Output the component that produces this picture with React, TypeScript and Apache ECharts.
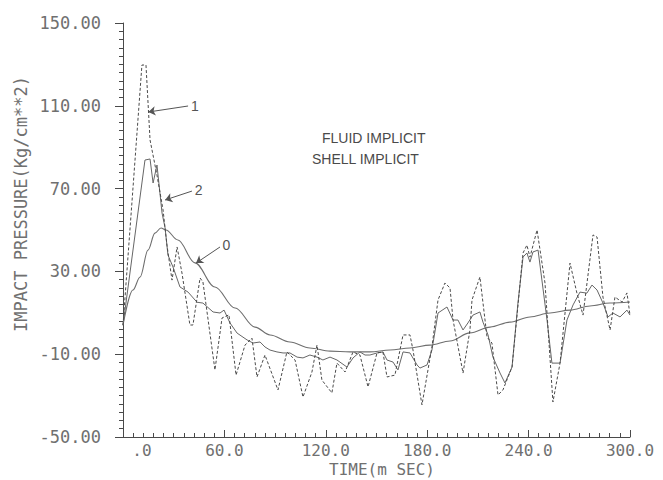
import React, { useEffect, useRef } from "react";
import * as echarts from "echarts";

// Tick labels
const xMajorTicks = [0, 60, 120, 180, 240, 300];
const yMajorTicks = [-50, -10, 30, 70, 110, 150];

// Curve 0 (smooth solid)
const curve0Time = [0, 5.9, 10.1, 14.8, 18.9, 22.5, 25.4, 32.5, 42.6, 54.4, 66.3, 78.1, 87.0, 98.8, 110.6, 122.5, 134.3, 146.1, 158.0, 169.8, 181.6, 193.5, 205.3, 217.2, 229.0, 240.8, 252.7, 264.5, 276.3, 288.2, 300];
const curve0Value = [4, 21.0, 27.3, 40.3, 48.5, 51.0, 50.0, 45.2, 34.1, 22.5, 12.3, 3.1, -0.7, -4.1, -7.0, -8.5, -8.9, -8.9, -8.0, -7.0, -5.6, -3.6, 0.3, 3.1, 5.5, 8.0, 9.9, 11.3, 13.3, 14.7, 15.2];

// Curve 1 (dashed, large oscillation)
const curve1Time = [0, 11.2, 13.6, 16.0, 20.1, 23.7, 26.0, 29.0, 32.0, 34.9, 39.6, 41.4, 45.6, 47.3, 54.4, 58.6, 62.7, 66.9, 72.2, 76.3, 79.3, 84.0, 91.7, 97.0, 101.8, 106.5, 111.8, 114.8, 117.7, 123.6, 126.6, 131.4, 136.1, 140.2, 145.0, 150.3, 153.8, 156.2, 160.9, 165.7, 169.8, 171.6, 176.9, 182.8, 186.4, 190.5, 193.5, 195.3, 201.2, 205.3, 206.5, 211.2, 215.4, 218.3, 221.9, 224.8, 230.2, 236.7, 239.0, 240.8, 245.0, 249.7, 254.4, 258.6, 264.5, 268.6, 272.2, 278.1, 280.5, 284.0, 288.2, 291.1, 295.3, 298.2, 300];
const curve1Value = [4, 129.7, 129.7, 93.5, 76.5, 59.7, 42.7, 25.8, 41.8, 29.2, 4.1, 4.1, 26.8, 24.9, -17.6, 7.5, 9.0, -20.1, -5.6, -2.2, -21.0, -10.4, -27.3, -8.9, -12.8, -30.7, -18.6, -5.6, -22.5, -28.7, -14.3, -18.6, -8.9, -10.4, -25.8, -9.4, -8.9, -21.0, -20.1, -0.7, -0.7, -8.0, -34.5, -6.5, 16.2, 24.4, 22.0, 6.5, -19.1, 1.7, 16.2, 27.3, -1.7, -4.6, -29.7, -27.3, -16.2, 38.9, 42.7, 36.9, 50.0, 24.4, -33.1, -14.3, 34.0, 19.5, 8.9, 47.6, 46.6, 17.6, 1.7, 17.6, 15.2, 19.6, 8.9];

// Curve 2 (thin, medium oscillation)
const curve2Time = [0, 13.0, 16.0, 17.8, 20.1, 23.1, 24.9, 26.6, 29.6, 33.7, 38.5, 43.8, 47.3, 53.3, 57.4, 59.8, 63.3, 67.5, 73.4, 76.9, 81.1, 84.0, 87.0, 91.1, 94.7, 98.8, 103.0, 106.5, 110.6, 114.8, 118.3, 122.5, 126.6, 132.5, 136.1, 140.2, 143.2, 146.1, 150.3, 153.8, 156.2, 159.8, 162.7, 165.7, 169.8, 174.0, 175.7, 179.9, 182.8, 186.4, 191.7, 195.3, 198.2, 201.2, 204.1, 207.1, 211.2, 213.0, 216.0, 218.9, 223.1, 226.0, 230.2, 233.7, 236.7, 239.0, 240.8, 242.6, 245.6, 250.9, 253.8, 258.6, 262.7, 266.3, 270.4, 274.5, 277.5, 280.5, 284.0, 287.0, 289.9, 294.1, 298.2, 300];
const curve2Value = [4, 83.8, 84.3, 72.7, 81.4, 58.2, 51.0, 37.9, 32.1, 22.5, 20.0, 15.1, 14.7, 10.4, 9.9, 11.3, 5.1, 0.2, -3.1, -4.6, -4.1, -6.5, -8.0, -8.9, -9.4, -9.4, -11.4, -11.8, -10.4, -11.4, -12.8, -11.4, -12.8, -16.2, -11.8, -8.9, -10.4, -10.4, -9.4, -8.9, -12.8, -13.8, -17.6, -8.9, -9.4, -15.2, -16.7, -15.2, -8.0, 9.9, 12.8, 6.5, 6.5, 1.7, 5.1, 8.9, 10.4, 5.5, -0.7, -11.4, -19.1, -23.9, -16.2, 14.7, 36.9, 38.9, 34.5, 39.4, 40.3, 6.5, -14.3, -14.3, 6.5, 13.8, 20.0, 19.5, 23.4, 21.0, 14.7, 8.0, 9.9, 8.0, 11.3, 8.9];

// Curve pointer annotations: label, [from time, from value], [to time, to value]
const pointerLabels = ["1", "2", "0"];
const pointerFrom = [[38.5, 109.9], [40.8, 68.8], [57.4, 41.8]];
const pointerTo = [[15.0, 107.0], [24.9, 64.5], [43.2, 34.0]];

const titleLines = ["FLUID IMPLICIT", "SHELL IMPLICIT"];
const xAxisTitle = "TIME(m SEC)";
const yAxisTitle = "IMPACT PRESSURE(Kg/cm**2)";

const zip = (t: number[], v: number[]) => t.map((x, i) => [x, v[i]]);

export default function App() {
  const ref = useRef<HTMLDivElement>(null);
  useEffect(() => {
    document.body.style.margin = "0";
    if (!ref.current) return;
    const chart = echarts.init(ref.current, null, { renderer: "svg" });

    const axisColor = "#4a4a4a";
    const textColor = "#707070";
    const monoFont = "DejaVu Sans Mono";

    const markLineData = pointerLabels.map((lab, i) => [
      { name: lab, coord: pointerFrom[i] },
      { coord: pointerTo[i] },
    ]);

    chart.setOption({
      animation: false,
      backgroundColor: "#ffffff",
      grid: { left: 123, right: 33, top: 23, bottom: 43, containLabel: false },
      xAxis: [
        {
          type: "value",
          min: 0,
          max: 300,
          interval: 6,
          axisLine: { show: true, onZero: false, lineStyle: { color: axisColor, width: 1 } },
          axisTick: { show: true, inside: true, length: 4, lineStyle: { color: axisColor } },
          axisLabel: {
            show: true,
            customValues: xMajorTicks,
            margin: 5,
            color: textColor,
            fontFamily: monoFont,
            fontSize: 16,
            formatter: (v: number) => (v === 0 ? "{z|.0}" : v.toFixed(1)),
            rich: { z: { padding: [0, 0, 0, 38], fontFamily: monoFont, fontSize: 16, color: textColor } },
          },
          splitLine: { show: false },
        },
        {
          type: "value",
          min: 0,
          max: 300,
          interval: 60,
          position: "bottom",
          axisLine: { show: false, onZero: false },
          axisTick: { show: true, inside: true, length: 7, lineStyle: { color: axisColor } },
          axisLabel: { show: false },
          splitLine: { show: false },
        },
      ],
      yAxis: [
        {
          type: "value",
          min: -50,
          max: 150,
          interval: 4,
          axisLine: { show: true, onZero: false, lineStyle: { color: axisColor, width: 1 } },
          axisTick: { show: true, inside: false, length: 4, lineStyle: { color: axisColor } },
          axisLabel: {
            show: true,
            customValues: yMajorTicks,
            margin: 22,
            color: textColor,
            fontFamily: monoFont,
            fontSize: 17,
            padding: [0, 0, 10, 0],
            formatter: (v: number) => v.toFixed(2),
          },
          splitLine: { show: false },
        },
        {
          type: "value",
          min: -50,
          max: 150,
          interval: 40,
          position: "left",
          axisLine: { show: false, onZero: false },
          axisTick: { show: true, inside: false, length: 8, lineStyle: { color: axisColor } },
          axisLabel: { show: false },
          splitLine: { show: false },
        },
      ],
      series: [
        {
          name: "0",
          type: "line",
          data: zip(curve0Time, curve0Value),
          smooth: 0.35,
          smoothMonotone: "x",
          showSymbol: false,
          symbol: "none",
          lineStyle: { color: "#6e6e6e", width: 1.1, type: "solid" },
          z: 3,
          markLine: {
            silent: true,
            symbol: ["none", "arrow"],
            symbolSize: 7,
            animation: false,
            lineStyle: { color: "#555555", width: 1, type: "solid" },
            label: {
              show: true,
              position: "start",
              distance: 3,
              formatter: "{b}",
              color: "#555555",
              fontFamily: "Liberation Sans",
              fontSize: 14,
            },
            itemStyle: { color: "#555555" },
            data: markLineData,
          },
        },
        {
          name: "1",
          type: "line",
          data: zip(curve1Time, curve1Value),
          showSymbol: false,
          symbol: "none",
          lineStyle: { color: "#4a4a4a", width: 1, type: [3, 2] },
          z: 4,
        },
        {
          name: "2",
          type: "line",
          data: zip(curve2Time, curve2Value),
          showSymbol: false,
          symbol: "none",
          lineStyle: { color: "#666666", width: 1, type: "solid" },
          z: 2,
        },
      ],
      graphic: [
        {
          type: "text",
          left: 322,
          top: 131,
          style: { text: titleLines[0], fill: "#4a4a4a", font: "14px 'Liberation Sans'" },
        },
        {
          type: "text",
          left: 312,
          top: 152,
          style: { text: titleLines[1], fill: "#4a4a4a", font: "14px 'Liberation Sans'" },
        },
        {
          type: "text",
          x: 382,
          y: 469,
          style: {
            text: xAxisTitle,
            fill: textColor,
            font: "16px 'DejaVu Sans Mono'",
            align: "center",
            verticalAlign: "middle",
          },
        },
        {
          type: "text",
          x: 21,
          y: 204,
          rotation: Math.PI / 2,
          style: {
            text: yAxisTitle,
            fill: textColor,
            font: "17px 'DejaVu Sans Mono'",
            align: "center",
            verticalAlign: "middle",
          },
        },
      ],
    });
    return () => chart.dispose();
  }, []);
  return <div ref={ref} style={{ width: 663, height: 480 }} />;
}
